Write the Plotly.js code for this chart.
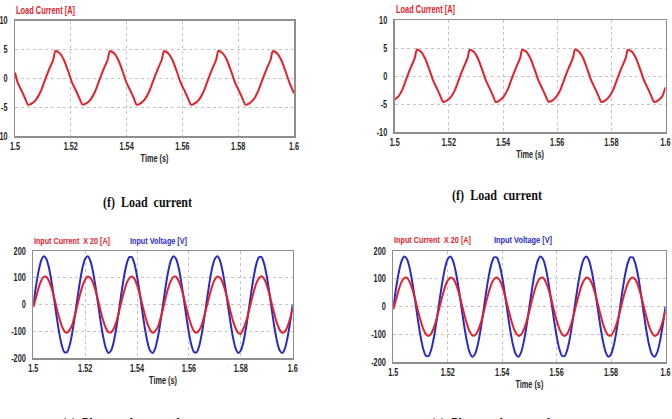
<!DOCTYPE html>
<html>
<head>
<meta charset="utf-8">
<script src="https://cdn.plot.ly/plotly-3.0.1.min.js"></script>
<style>
  html, body { margin: 0; padding: 0; background: #ffffff; }
  #chart { width: 672px; height: 419px; }
</style>
</head>
<body>
<div id="chart"></div>
<script>
// ---- Load current, case 1 (top left) ----
const loadTime1 = [
  1.5000, 1.5010, 1.5025, 1.5037,
  1.5047, 1.5062, 1.5077, 1.5092, 1.5107, 1.5122, 1.5137, 1.5145, 1.5160, 1.5175, 1.5190, 1.5205, 1.5220, 1.5232,
  1.5242, 1.5257, 1.5272, 1.5287, 1.5302, 1.5317, 1.5332, 1.5340, 1.5355, 1.5370, 1.5385, 1.5400, 1.5415, 1.5427,
  1.5436, 1.5451, 1.5466, 1.5481, 1.5496, 1.5511, 1.5526, 1.5534, 1.5549, 1.5564, 1.5579, 1.5594, 1.5609, 1.5621,
  1.5631, 1.5646, 1.5661, 1.5676, 1.5691, 1.5706, 1.5721, 1.5729, 1.5744, 1.5759, 1.5774, 1.5789, 1.5804, 1.5816,
  1.5826, 1.5841, 1.5856, 1.5871, 1.5886, 1.5901, 1.5916, 1.5924, 1.5939, 1.5954, 1.5969, 1.5984, 1.6000
];
const loadCurrent1 = [
  1.0, -0.8, -2.3, -3.6,
  -4.6, -4.3, -3.6, -2.3, -0.35, 1.5, 3.2, 4.75, 4.35, 3.2, 1.3, -0.8, -2.3, -3.6,
  -4.55, -4.3, -3.6, -2.3, -0.35, 1.5, 3.2, 4.7, 4.35, 3.2, 1.3, -0.8, -2.3, -3.6,
  -4.6, -4.3, -3.6, -2.3, -0.35, 1.5, 3.2, 4.7, 4.35, 3.2, 1.3, -0.8, -2.3, -3.6,
  -4.6, -4.3, -3.6, -2.3, -0.35, 1.5, 3.2, 4.75, 4.35, 3.2, 1.3, -0.8, -2.3, -3.6,
  -4.6, -4.3, -3.6, -2.3, -0.35, 1.5, 3.2, 4.7, 4.35, 3.2, 1.3, -0.8, -2.6
];

// ---- Load current, case 2 (top right) ----
const loadTime2 = [
  1.5000, 1.5014, 1.5029, 1.5044, 1.5059, 1.5074, 1.5082, 1.5097, 1.5112, 1.5127, 1.5142, 1.5157, 1.5169,
  1.5179, 1.5194, 1.5209, 1.5224, 1.5239, 1.5254, 1.5269, 1.5277, 1.5292, 1.5307, 1.5322, 1.5337, 1.5352, 1.5364,
  1.5373, 1.5388, 1.5403, 1.5418, 1.5433, 1.5448, 1.5463, 1.5471, 1.5486, 1.5501, 1.5516, 1.5531, 1.5546, 1.5558,
  1.5568, 1.5583, 1.5598, 1.5613, 1.5628, 1.5643, 1.5658, 1.5666, 1.5681, 1.5696, 1.5711, 1.5726, 1.5741, 1.5753,
  1.5763, 1.5778, 1.5793, 1.5808, 1.5823, 1.5838, 1.5853, 1.5861, 1.5876, 1.5891, 1.5906, 1.5921, 1.5936, 1.5948,
  1.5958, 1.5973, 1.5988, 1.6000
];
const loadCurrent2 = [
  -4.15, -3.6, -2.3, -0.35, 1.5, 3.2, 4.75, 4.35, 3.2, 1.3, -0.8, -2.3, -3.6,
  -4.6, -4.3, -3.6, -2.3, -0.35, 1.5, 3.2, 4.7, 4.35, 3.2, 1.3, -0.8, -2.3, -3.6,
  -4.6, -4.3, -3.6, -2.3, -0.35, 1.5, 3.2, 4.7, 4.35, 3.2, 1.3, -0.8, -2.3, -3.6,
  -4.55, -4.3, -3.6, -2.3, -0.35, 1.5, 3.2, 4.75, 4.35, 3.2, 1.3, -0.8, -2.3, -3.6,
  -4.6, -4.3, -3.6, -2.3, -0.35, 1.5, 3.2, 4.7, 4.35, 3.2, 1.3, -0.8, -2.3, -3.6,
  -4.6, -4.3, -3.6, -2.0
];

// ---- Input side, sampled every 1 ms from 1.500 s to 1.600 s ----
const sampleTime = Array.from({ length: 101 }, (_, k) => +(1.5 + k * 0.001).toFixed(3));

const inputVoltage1 = [
  0, 66, 123, 163, 180, 171, 139, 87, 23, -45, -106, -152, -177, -177, -152, -106, -45, 23, 87, 139,
  171, 180, 163, 123, 66, 0, -66, -123, -163, -180, -171, -139, -87, -23, 45, 106, 152, 177, 177, 152,
  106, 45, -23, -87, -139, -171, -180, -163, -123, -66, 0,
  66, 123, 163, 180, 171, 139, 87, 23, -45, -106, -152, -177, -177, -152, -106, -45, 23, 87, 139, 171,
  180, 163, 123, 66, 0, -66, -123, -163, -180, -171, -139, -87, -23, 45, 106, 152, 177, 177, 152, 106,
  45, -23, -87, -139, -171, -180, -163, -123, -66, 0
];
const inputCurrentX20_1 = [
  -10, 25, 61, 88, 103, 104, 89, 63, 28, -12, -49, -80, -99, -105, -94, -75, -40, -1, 37, 71,
  94, 105, 100, 82, 52, 15, -25, -61, -88, -103, -103, -90, -65, -28, 12, 49, 80, 99, 105, 96,
  73, 40, 1, -37, -71, -94, -105, -98, -84, -52, -15,
  25, 61, 88, 103, 104, 89, 63, 28, -12, -49, -80, -99, -105, -95, -73, -40, -1, 37, 71, 94,
  105, 100, 82, 52, 15, -25, -61, -88, -106, -109, -89, -63, -28, 12, 49, 80, 99, 106, 96, 73,
  40, 1, -37, -71, -94, -105, -100, -82, -52, -15
];

const inputVoltage2 = [
  0, 66, 123, 163, 180, 171, 139, 87, 23, -45, -106, -152, -177, -177, -152, -106, -45, 23, 87, 139,
  171, 180, 163, 123, 66, 0, -66, -123, -163, -180, -171, -139, -87, -23, 45, 106, 152, 177, 177, 152,
  106, 45, -23, -87, -139, -171, -180, -163, -123, -66, 0,
  66, 123, 163, 180, 171, 139, 87, 23, -45, -106, -152, -177, -177, -152, -106, -45, 23, 87, 139, 171,
  180, 163, 123, 66, 0, -66, -123, -163, -180, -171, -139, -87, -23, 45, 106, 152, 177, 177, 152, 106,
  45, -23, -87, -139, -171, -180, -163, -123, -66, 0
];
const inputCurrentX20_2 = [
  -10, 25, 61, 88, 103, 104, 89, 63, 28, -12, -49, -80, -99, -105, -96, -73, -40, -1, 37, 71,
  94, 105, 100, 82, 52, 15, -25, -61, -88, -103, -103, -89, -63, -28, 12, 49, 80, 99, 105, 96,
  73, 40, 1, -37, -71, -94, -105, -100, -82, -52, -15,
  25, 61, 88, 103, 104, 89, 63, 28, -12, -49, -80, -99, -105, -96, -73, -40, -1, 37, 71, 94,
  105, 100, 82, 52, 15, -25, -61, -88, -103, -103, -89, -63, -28, 12, 49, 80, 99, 105, 96, 73,
  40, 1, -37, -71, -94, -105, -100, -82, -52, -15
];

// ---- Axis ticks and labels ----
const timeTicks = [1.5, 1.52, 1.54, 1.56, 1.58, 1.6];
const timeTickText = ['1.5', '1.52', '1.54', '1.56', '1.58', '1.6'];
const loadTicks = [-10, -5, 0, 5, 10];
const loadTickText = ['-10', '-5', '0', '5', '10'];
const inputTicks = [-200, -100, 0, 100, 200];
const inputTickText = ['-200', '-100', '0', '100', '200'];

const timeTitle = 'Time (s)';
const loadTitle = 'Load Current [A]';
const currentTitle = 'Input Current  X 20 [A]';
const voltageTitle = 'Input Voltage [V]';
const captionLoad = '(f)  Load  current';
const captionInput = '(g)  Phase  voltage  and  current';

// ---- Styling ----
const W = 672, H = 419;
const RED = '#e3212b';
const BLUE = '#2a2ac4';
const SANS = 'Liberation Sans, Arial, sans-serif';
const SERIF = 'Liberation Serif, Times New Roman, serif';
const tickFont = { family: SANS, size: 10, color: '#262626', weight: 'bold' };
const SANS_SQUEEZE = 0.73;   // narrow, condensed look of the axis labels

const px = v => v / W;
const py = v => 1 - v / H;

function xAxis(domain, anchor, standoff) {
  return {
    domain: domain, anchor: anchor, range: [1.5, 1.6],
    tickvals: timeTicks, ticktext: timeTickText, ticklabeloverflow: 'allow',
    showgrid: true, gridcolor: '#c4c4c4', griddash: 'dot', gridwidth: 1,
    zeroline: false, showline: true, mirror: true, linecolor: '#8e8e8e', linewidth: 1.5,
    ticks: '', tickfont: tickFont,
    title: { text: timeTitle, font: tickFont, standoff: standoff },
    fixedrange: true
  };
}
function yAxis(domain, anchor, range, ticks, text) {
  return {
    domain: domain, anchor: anchor, range: range, tickvals: ticks, ticktext: text,
    ticklabeloverflow: 'allow',
    showgrid: true, gridcolor: '#c4c4c4', griddash: 'dot', gridwidth: 1,
    zeroline: false, showline: true, mirror: true, linecolor: '#8e8e8e', linewidth: 1.5,
    ticks: 'outside', ticklen: 4, tickcolor: 'rgba(0,0,0,0)', tickfont: tickFont,
    fixedrange: true
  };
}

const lineRed = { color: RED, width: 2, shape: 'spline', smoothing: 0.6 };
const lineBlue = { color: BLUE, width: 2, shape: 'spline', smoothing: 0.6 };

const traces = [
  { x: loadTime1, y: loadCurrent1, xaxis: 'x', yaxis: 'y', mode: 'lines', line: lineRed, name: loadTitle },
  { x: loadTime2, y: loadCurrent2, xaxis: 'x2', yaxis: 'y2', mode: 'lines', line: lineRed, name: loadTitle },
  { x: sampleTime, y: inputVoltage1, xaxis: 'x3', yaxis: 'y3', mode: 'lines', line: lineBlue, name: voltageTitle },
  { x: sampleTime, y: inputCurrentX20_1, xaxis: 'x3', yaxis: 'y3', mode: 'lines', line: lineRed, name: currentTitle },
  { x: sampleTime, y: inputVoltage2, xaxis: 'x4', yaxis: 'y4', mode: 'lines', line: lineBlue, name: voltageTitle },
  { x: sampleTime, y: inputCurrentX20_2, xaxis: 'x4', yaxis: 'y4', mode: 'lines', line: lineRed, name: currentTitle }
];

// Text label in page pixels; boxWidth is the width the label is condensed to.
function label(text, x, y, color, boxWidth, size, font, anchor) {
  const a = anchor || 'left';
  return {
    text: text, xref: 'paper', yref: 'paper', x: px(x), y: py(y),
    xanchor: a, align: a, yanchor: 'middle', showarrow: false,
    width: boxWidth, borderpad: 0,
    font: { family: font || SANS, size: size || 10, color: color, weight: 'bold' }
  };
}

const annotations = [
  label(loadTitle, 15, 10, RED, 59, 10),
  label(loadTitle, 394.7, 9.5, RED, 59, 10),
  label(currentTitle, 33.3, 240.7, RED, 76, 8.8),
  label(voltageTitle, 129.3, 240.7, BLUE, 57, 8.8),
  label(currentTitle, 393, 240, RED, 77, 8.8),
  label(voltageTitle, 492.7, 240, BLUE, 58, 8.8),
  label(captionLoad, 147, 202, '#111111', 89, 15, SERIF, 'center'),
  label(captionLoad, 497, 196, '#111111', 90, 15, SERIF, 'center'),
  label(captionInput, 143, 423, '#111111', 162, 15, SERIF, 'center'),
  label(captionInput, 513, 423, '#111111', 164, 15, SERIF, 'center')
];

const layout = {
  width: W, height: H,
  margin: { l: 0, r: 0, t: 0, b: 0 },
  paper_bgcolor: '#ffffff', plot_bgcolor: '#ffffff',
  showlegend: false,
  xaxis: xAxis([px(15), px(294)], 'y', 4),
  yaxis: yAxis([py(136), py(20.5)], 'x', [-10, 10], loadTicks, loadTickText),
  xaxis2: xAxis([px(394.7), px(665.5)], 'y2', 4),
  yaxis2: yAxis([py(132.3), py(20)], 'x2', [-10, 10], loadTicks, loadTickText),
  xaxis3: xAxis([px(33.3), px(292.7)], 'y3', 4),
  yaxis3: yAxis([py(358.3), py(251)], 'x3', [-200, 200], inputTicks, inputTickText),
  xaxis4: xAxis([px(393.3), px(665.5)], 'y4', 4),
  yaxis4: yAxis([py(362.3), py(251)], 'x4', [-200, 200], inputTicks, inputTickText),
  annotations: annotations
};

// Condense the text horizontally: annotations to their box width, axis labels by a fixed ratio.
function condense(el, length) {
  if (length > 0) {
    el.setAttribute('textLength', length.toFixed(2));
    el.setAttribute('lengthAdjust', 'spacingAndGlyphs');
  }
}
function squeezeText(root) {
  root.querySelectorAll('text').forEach(el => {
    if (el.closest('.annotation')) return;
    condense(el, el.getComputedTextLength() * SANS_SQUEEZE);
  });
  root.querySelectorAll('.annotation').forEach(g => {
    const i = +g.getAttribute('data-index');
    const t = g.querySelector('.annotation-text');
    if (t && annotations[i]) condense(t, annotations[i].width);
  });
}

Plotly.newPlot('chart', traces, layout, { staticPlot: true, displayModeBar: false })
  .then(gd => squeezeText(gd));
</script>
</body>
</html>
